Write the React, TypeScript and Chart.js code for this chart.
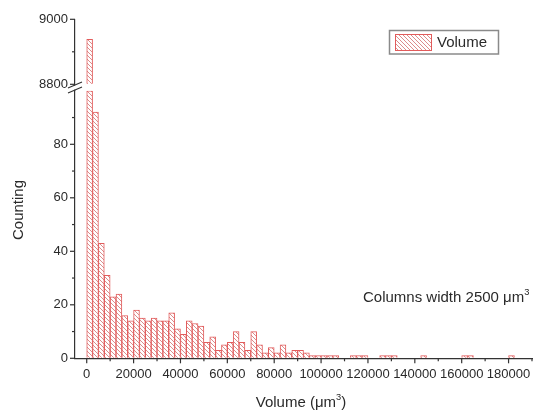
import React, { useEffect, useRef } from 'react';
import { Chart, registerables } from 'chart.js';

Chart.register(...registerables);

// ---- data ----
const BIN_WIDTH = 2500;
// counts per 2500 µm³ bin, starting at 0
const counts: number[] = [
  8938, 92, 43, 31, 23, 24, 16, 14, 18, 15,
  14, 15, 14, 14, 17, 11, 9, 14, 13, 12,
  6, 8, 3, 5, 6, 10, 6, 3, 10, 5,
  2, 4, 2, 5, 2, 3, 3, 2, 1, 1,
  1, 1, 1, 0, 0, 1, 1, 1, 0, 0,
  1, 1, 1, 0, 0, 0, 0, 1, 0, 0,
  0, 0, 0, 0, 1, 1, 0, 0, 0, 0,
  0, 0, 1,
];
const xTickValues: number[] = [0, 10000, 20000, 30000, 40000, 50000, 60000, 70000, 80000, 90000, 100000, 110000, 120000, 130000, 140000, 150000, 160000, 170000, 180000, 190000];
const lowTickValues: number[] = [0, 10, 20, 30, 40, 50, 60, 70, 80, 90];
const highTickValues: number[] = [8800, 8900, 9000];
const LOW_MIN = 0;
const LOW_MAX = 100;
const HIGH_MIN = 8800;
const HIGH_AXIS_MIN = 8780;
const HIGH_MAX = 9000;
const X_MIN = -5000;
const X_MAX = 190000;
const legendLabel = 'Volume';
const noteText = 'Columns width 2500 μm';
const xTitle = 'Volume (μm';
const yTitle = 'Counting';

const FONT = '"Liberation Sans", Arial, sans-serif';
const TEXT = '#2a2a2a';
const AXIS = '#333333';
const RED = '#e25c5c';

function makeHatch(): CanvasPattern | string {
  const c = document.createElement('canvas');
  c.width = 4;
  c.height = 4;
  const g = c.getContext('2d');
  if (!g) return '#fff';
  g.fillStyle = '#ffffff';
  g.fillRect(0, 0, 4, 4);
  g.strokeStyle = '#dc8c8c';
  g.lineWidth = 1;
  g.beginPath();
  g.moveTo(-1, -1); g.lineTo(5, 5);
  g.moveTo(-1, 3); g.lineTo(1, 5);
  g.moveTo(3, -1); g.lineTo(5, 1);
  g.stroke();
  return g.createPattern(c, 'repeat') || '#fff';
}

function drawSup(ctx: CanvasRenderingContext2D, base: string, sup: string, tail: string, x: number, y: number, size: number, align: 'left' | 'center') {
  ctx.save();
  ctx.textBaseline = 'middle';
  ctx.textAlign = 'left';
  ctx.font = `${size}px ${FONT}`;
  const wb = ctx.measureText(base).width;
  const wt = ctx.measureText(tail).width;
  ctx.font = `${size * 0.62}px ${FONT}`;
  const ws = ctx.measureText(sup).width;
  const total = wb + ws + wt;
  let sx = align === 'center' ? x - total / 2 : x;
  ctx.fillStyle = TEXT;
  ctx.font = `${size}px ${FONT}`;
  ctx.fillText(base, sx, y);
  sx += wb;
  ctx.font = `${size * 0.62}px ${FONT}`;
  ctx.fillText(sup, sx, y - size * 0.38);
  sx += ws;
  ctx.font = `${size}px ${FONT}`;
  ctx.fillText(tail, sx, y);
  ctx.restore();
}

const decorPlugin = {
  id: 'decor',
  afterDraw(chart: any) {
    const ctx: CanvasRenderingContext2D = chart.ctx;
    const xs = chart.scales.x;
    const yl = chart.scales.yLow;
    const yh = chart.scales.yHigh;
    ctx.save();
    ctx.strokeStyle = AXIS;
    ctx.lineWidth = 1.2;
    // x ticks
    const xb = xs.top;
    for (const v of xTickValues) {
      const px = xs.getPixelForValue(v);
      const len = v % 20000 === 0 && v <= 180000 ? 5 : 3;
      ctx.beginPath();
      ctx.moveTo(px, xb);
      ctx.lineTo(px, xb + len);
      ctx.stroke();
    }
    // y ticks
    const axX = yl.right;
    for (const v of lowTickValues) {
      const py = yl.getPixelForValue(v);
      const len = v % 20 === 0 ? 5 : 3;
      ctx.beginPath();
      ctx.moveTo(axX - len, py);
      ctx.lineTo(axX, py);
      ctx.stroke();
    }
    for (const v of highTickValues) {
      const py = yh.getPixelForValue(v);
      const len = v % 200 === 0 ? 5 : 3;
      ctx.beginPath();
      ctx.moveTo(axX - len, py);
      ctx.lineTo(axX, py);
      ctx.stroke();
    }
    // axis break
    const yTopLow = yl.getPixelForValue(LOW_MAX);
    const yBotHigh = yh.getPixelForValue(HIGH_MIN);
    const mid = (yTopLow + yBotHigh) / 2;
    ctx.fillStyle = '#ffffff';
    ctx.beginPath();
    ctx.moveTo(axX - 7, mid + 5);
    ctx.lineTo(axX + 7, mid - 1);
    ctx.lineTo(axX + 7, mid - 5);
    ctx.lineTo(axX - 7, mid + 1);
    ctx.closePath();
    ctx.fill();
    ctx.beginPath();
    ctx.moveTo(axX - 7, mid + 5.5);
    ctx.lineTo(axX + 7, mid - 0.5);
    ctx.moveTo(axX - 7, mid + 0.5);
    ctx.lineTo(axX + 7, mid - 5.5);
    ctx.stroke();
    ctx.restore();

    // legend
    ctx.save();
    ctx.strokeStyle = '#8a8a8a';
    ctx.lineWidth = 1.5;
    ctx.strokeRect(389.5, 30.5, 109, 23.5);
    const hatch = chart.data.datasets[0].backgroundColor;
    ctx.fillStyle = hatch;
    ctx.fillRect(395, 34, 36, 16);
    ctx.strokeStyle = RED;
    ctx.lineWidth = 1;
    ctx.strokeRect(395.5, 34.5, 36, 16);
    ctx.fillStyle = TEXT;
    ctx.font = `15px ${FONT}`;
    ctx.textBaseline = 'middle';
    ctx.textAlign = 'left';
    ctx.fillText(legendLabel, 437, 42.5);
    ctx.restore();

    // annotation
    drawSup(ctx, noteText, '3', '', 363, 298, 15, 'left');
    // x title
    drawSup(ctx, xTitle, '3', ')', 301, 403, 15, 'center');
    // y title
    ctx.save();
    ctx.translate(19, 210);
    ctx.rotate(-Math.PI / 2);
    ctx.fillStyle = TEXT;
    ctx.font = `15px ${FONT}`;
    ctx.textAlign = 'center';
    ctx.textBaseline = 'middle';
    ctx.fillText(yTitle, 0, 0);
    ctx.restore();
  },
};

export default function App() {
  const ref = useRef<HTMLCanvasElement | null>(null);
  useEffect(() => {
    if (!ref.current) return;
    const hatch = makeHatch();
    const lowPoints = counts.map((v, i) => ({ x: i * BIN_WIDTH + BIN_WIDTH / 2, y: Math.min(v, LOW_MAX) }));
    const highPoints = counts.map((v, i) => ({ x: i * BIN_WIDTH + BIN_WIDTH / 2, y: v > HIGH_MIN ? v : null }));
    const tickFont = { family: FONT, size: 13 };
    const common = {
      backgroundColor: hatch,
      borderColor: RED,
      borderWidth: 1,
      grouped: false,
      barPercentage: 1,
      categoryPercentage: 1,
    };
    const chart = new Chart(ref.current, {
      type: 'bar',
      data: {
        datasets: [
          { label: legendLabel, data: lowPoints, yAxisID: 'yLow', ...common } as any,
          { label: legendLabel, data: highPoints, yAxisID: 'yHigh', base: HIGH_MIN, ...common } as any,
        ],
      },
      options: {
        animation: false,
        responsive: false,
        devicePixelRatio: 1,
        layout: { padding: { top: 19.3, right: 12, left: 0, bottom: 0 } },
        plugins: { legend: { display: false }, tooltip: { enabled: false } },
        scales: {
          x: {
            type: 'linear',
            position: 'bottom',
            offset: false,
            min: X_MIN,
            max: X_MAX,
            afterBuildTicks: (s: any) => { s.ticks = xTickValues.map((v) => ({ value: v })); },
            afterFit: (s: any) => { s.height = 52.7; },
            ticks: {
              autoSkip: false,
              maxRotation: 0,
              font: tickFont,
              color: TEXT,
              padding: 3,
              callback: (v: any) => (v % 20000 === 0 && v <= 180000 ? String(v) : ''),
            },
            grid: { display: true, drawOnChartArea: false, drawTicks: true, tickLength: 5, tickColor: 'rgba(0,0,0,0)' },
            border: { display: true, color: AXIS, width: 1.2 },
          },
          yLow: {
            type: 'linear',
            position: 'left',
            stack: 'y',
            stackWeight: 267.5,
            min: LOW_MIN,
            max: LOW_MAX,
            afterBuildTicks: (s: any) => { s.ticks = lowTickValues.map((v) => ({ value: v })); },
            afterFit: (s: any) => { s.width = 75; },
            ticks: {
              font: tickFont,
              color: TEXT,
              padding: 2,
              callback: (v: any) => (v % 20 === 0 ? String(v) : ''),
            },
            grid: { display: true, drawOnChartArea: false, drawTicks: true, tickLength: 5, tickColor: 'rgba(0,0,0,0)' },
            border: { display: true, color: AXIS, width: 1.2 },
          },
          yHigh: {
            type: 'linear',
            position: 'left',
            stack: 'y',
            stackWeight: 71.5,
            min: HIGH_AXIS_MIN,
            max: HIGH_MAX,
            afterBuildTicks: (s: any) => { s.ticks = highTickValues.map((v) => ({ value: v })); },
            afterFit: (s: any) => { s.width = 75; },
            ticks: {
              font: tickFont,
              color: TEXT,
              padding: 2,
              callback: (v: any) => (v % 200 === 0 ? String(v) : ''),
            },
            grid: { display: true, drawOnChartArea: false, drawTicks: true, tickLength: 5, tickColor: 'rgba(0,0,0,0)' },
            border: { display: true, color: AXIS, width: 1.2 },
          },
        },
      } as any,
      plugins: [decorPlugin],
    });
    return () => chart.destroy();
  }, []);
  return (
    <div style={{ position: 'fixed', left: 0, top: 0, width: 544, height: 411, background: '#fff' }}>
      <canvas ref={ref} width={544} height={411} style={{ width: 544, height: 411, display: 'block' }} />
    </div>
  );
}
